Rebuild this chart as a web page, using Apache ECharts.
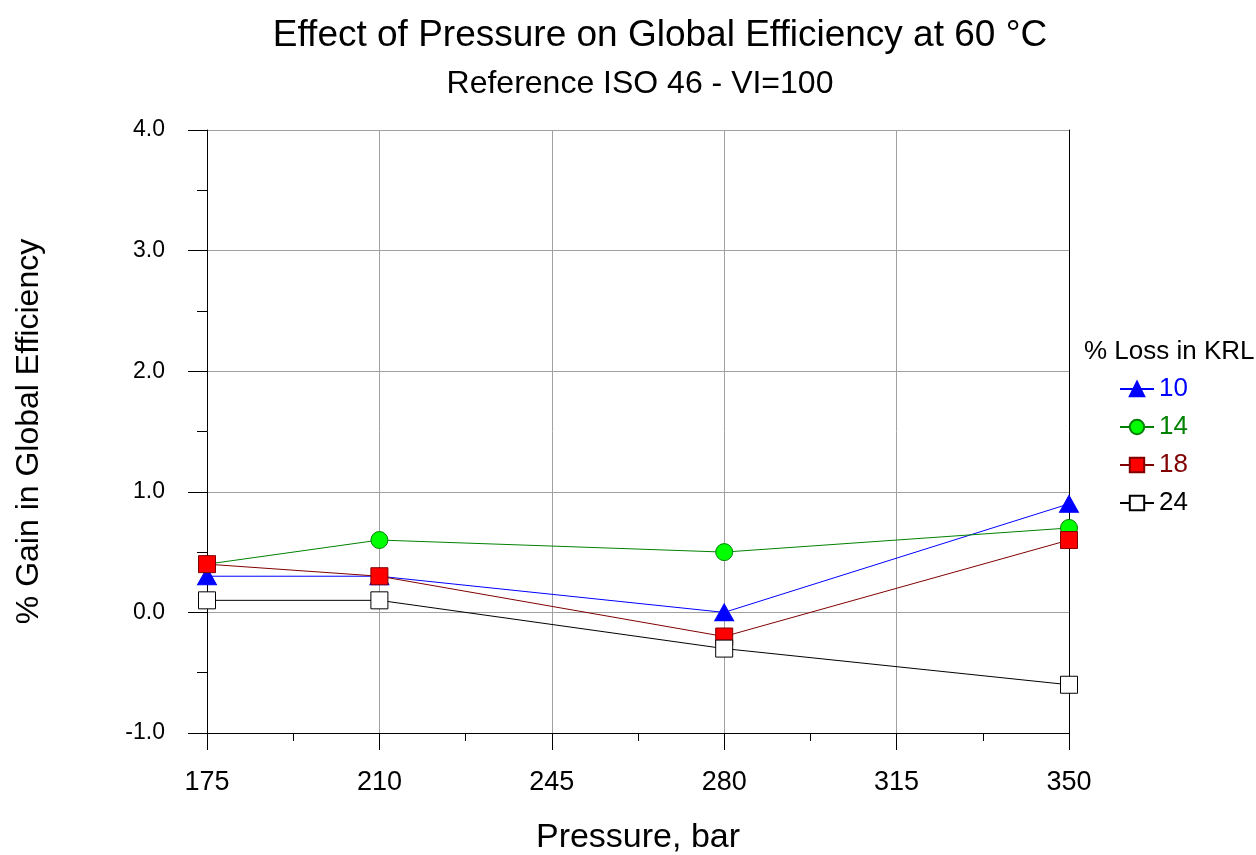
<!DOCTYPE html>
<html><head><meta charset="utf-8">
<script src="https://cdn.jsdelivr.net/npm/echarts@6/dist/echarts.min.js"></script>
<style>html,body{margin:0;padding:0;background:#fff}#c{width:1256px;height:855px}</style>
</head><body><div id="c"></div>
<script>
const pressures = [175, 210, 280, 350];
const loss10 = [0.3, 0.3, 0.0, 0.9];
const loss14 = [0.4, 0.6, 0.5, 0.7];
const loss18 = [0.4, 0.3, -0.2, 0.6];
const loss24 = [0.1, 0.1, -0.3, -0.6];
const seriesNames = ['10', '14', '18', '24'];

const FONT = 'Liberation Sans, Arial, sans-serif';
const pairs = v => pressures.map((p, i) => [p, v[i]]);
const chart = echarts.init(document.getElementById('c'));
const mk = (name, data, line, fill, border, symbol, size) => ({
  name, type: 'line', data: pairs(data), symbol, symbolSize: size,
  lineStyle: { color: line, width: 1 },
  itemStyle: { color: fill, borderColor: border, borderWidth: 1 },
  emphasis: { disabled: true }, z: 3
});
chart.setOption({
  animation: false,
  textStyle: { fontFamily: FONT },
  title: [
    { text: 'Effect of Pressure on Global Efficiency at 60 °C', left: 655, top: 12, textAlign: 'center',
      textStyle: { fontFamily: FONT, fontSize: 37, fontWeight: 'normal', color: '#000' } },
    { text: 'Reference ISO 46 - VI=100', left: 635, top: 63, textAlign: 'center',
      textStyle: { fontFamily: FONT, fontSize: 32, fontWeight: 'normal', color: '#000' } },
    { text: '% Loss in KRL', left: 1079, top: 334,
      textStyle: { fontFamily: FONT, fontSize: 26, fontWeight: 'normal', color: '#000' } }
  ],
  legend: {
    orient: 'vertical', left: 1114, top: 371, itemGap: 12, itemWidth: 34, itemHeight: 18,
    textStyle: { fontFamily: FONT, fontSize: 26 },
    data: [
      { name: '10', textStyle: { color: '#0000ff' } },
      { name: '14', textStyle: { color: '#008000' } },
      { name: '18', textStyle: { color: '#800000' } },
      { name: '24', textStyle: { color: '#000000' } }
    ]
  },
  grid: { left: 207, top: 130, width: 862, height: 603, outerBoundsMode: 'none', containLabel: false },
  xAxis: {
    type: 'value', min: 175, max: 350, interval: 35,
    name: 'Pressure, bar', nameLocation: 'middle', nameGap: 88,
    nameTextStyle: { fontFamily: FONT, fontSize: 34, color: '#000' },
    axisLine: { onZero: false, lineStyle: { color: '#000', width: 1 } },
    axisTick: { length: 17, lineStyle: { color: '#000' } },
    minorTick: { show: true, splitNumber: 2, length: 8, lineStyle: { color: '#000' } },
    axisLabel: { margin: 36, fontSize: 27, color: '#000', fontFamily: FONT },
    splitLine: { show: true, lineStyle: { color: '#a0a0a0', width: 1 } }
  },
  yAxis: [{
    type: 'value', min: -1, max: 4, interval: 1,
    name: '% Gain in Global Efficiency', nameLocation: 'middle', nameGap: 162, nameRotate: 90,
    nameTextStyle: { fontFamily: FONT, fontSize: 32, color: '#000' },
    axisLine: { show: true, onZero: false, lineStyle: { color: '#000', width: 1 } },
    axisTick: { show: true, length: 19, lineStyle: { color: '#000' } },
    minorTick: { show: true, splitNumber: 2, length: 10, lineStyle: { color: '#000' } },
    axisLabel: { margin: 42, fontSize: 23, color: '#000', fontFamily: FONT, formatter: v => v.toFixed(1) },
    splitLine: { show: true, lineStyle: { color: '#a0a0a0', width: 1 } }
  }, {
    type: 'value', min: -1, max: 4, interval: 1, position: 'right',
    axisLine: { show: true, onZero: false, lineStyle: { color: '#000', width: 1 } },
    axisTick: { show: false }, axisLabel: { show: false }, splitLine: { show: false }
  }],
  series: [
    mk('10', loss10, '#0000ff', '#0000ff', '#0000ff', 'triangle', [19, 17]),
    mk('14', loss14, '#008000', '#00ff00', '#008000', 'circle', 17),
    mk('18', loss18, '#800000', '#ff0000', '#800000', 'rect', 17),
    mk('24', loss24, '#000000', '#ffffff', '#000000', 'rect', 17)
  ]
});
</script></body></html>
